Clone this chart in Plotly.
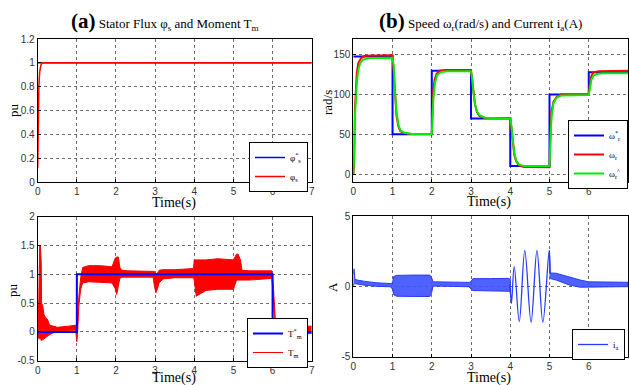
import plotly.graph_objects as go

# ---------------- data ----------------
# (a) top: stator flux (pu)
flux_ref_t = [0.0, 7.0]
flux_ref_v = [1.0, 1.0]
flux_t = [0.0, 0.005, 0.015, 0.03, 0.05, 0.08, 0.11, 7.0]
flux_v = [0.12, 0.40, 0.65, 0.80, 0.92, 0.98, 1.00, 1.00]

# (b) top: speed (rad/s)
spd_ref_t = [0, 1, 1, 2, 2, 3, 3, 4, 4, 5, 5, 6, 6, 7]
spd_ref_v = [148, 148, 50, 50, 130, 130, 70, 70, 10, 10, 100, 100, 128, 128]
spd_t = [0.0, 0.02, 0.04, 0.06, 0.09, 0.13, 0.2, 0.3, 1.0,
         1.03, 1.06, 1.1, 1.15, 1.2, 1.3, 1.5, 2.0,
         2.02, 2.04, 2.07, 2.12, 2.2, 2.35, 3.0,
         3.03, 3.06, 3.1, 3.15, 3.22, 3.35, 4.0,
         4.03, 4.06, 4.1, 4.15, 4.22, 4.35, 5.0,
         5.02, 5.05, 5.1, 5.18, 5.3, 6.0,
         6.03, 6.07, 6.12, 6.25, 7.0]
spd_v = [0, 10, 80, 110, 128, 140, 146, 149, 149.5,
         130, 100, 74, 60, 54, 51.5, 50.5, 50.5,
         85, 105, 118, 126, 130, 131, 131,
         118, 102, 88, 78, 73, 70.5, 70.5,
         58, 40, 25, 16, 11, 9, 8.5,
         45, 78, 91, 97, 100, 100,
         115, 124, 128, 129.5, 130]
est_t = [0.0, 0.02, 0.04, 0.06, 0.09, 0.13, 0.18, 0.25, 0.4, 1.0,
         1.03, 1.06, 1.1, 1.15, 1.2, 1.3, 1.5, 2.0,
         2.02, 2.04, 2.08, 2.14, 2.25, 2.4, 3.0,
         3.03, 3.06, 3.1, 3.15, 3.22, 3.35, 4.0,
         4.03, 4.06, 4.1, 4.15, 4.22, 4.35, 5.0,
         5.02, 5.05, 5.1, 5.18, 5.3, 6.0,
         6.03, 6.07, 6.12, 6.2, 6.35, 7.0]
est_v = [0, 20, 70, 95, 115, 132, 140, 144, 146, 146.5,
         135, 105, 78, 62, 55, 52, 50.5, 50.3,
         70, 95, 115, 125, 128.5, 129.5, 129.5,
         120, 103, 88, 79, 74, 71, 70,
         60, 42, 27, 17, 12, 10, 10,
         35, 72, 89, 96, 99, 99.5,
         108, 119, 124, 126, 127, 127]

# (a) bottom: electromagnetic torque (pu)
tq_ref_t = [0, 1, 1, 6, 6, 7]
tq_ref_v = [0, 0, 1, 1, 0, 0]
tq_t = [0.00, 0.03, 0.05, 0.07, 0.09, 0.10, 0.13, 0.16, 0.20, 0.25, 0.30, 0.50, 0.80, 0.97,
        1.00, 1.02, 1.05, 1.10, 1.15, 1.30, 1.60, 1.90, 1.98, 2.02, 2.06, 2.10, 2.15, 2.30,
        2.60, 2.95, 2.98, 3.02, 3.06, 3.10, 3.20, 3.50, 3.98, 4.00, 4.05, 4.30, 4.60, 5.00,
        5.08, 5.12, 5.18, 5.22, 5.40, 5.80, 5.98, 6.02, 6.05, 6.08, 6.12, 6.20, 6.50, 6.90, 7.00]
tq_hi = [0.05, 0.60, 1.50, 1.50, 1.20, 0.50, 0.45, 0.30, 0.25, 0.22, 0.12, 0.08, 0.10, 0.12,
         0.12, 0.20, 0.60, 0.95, 1.12, 1.15, 1.15, 1.13, 1.28, 1.30, 1.30, 1.12, 1.07, 1.06,
         1.06, 1.06, 1.05, 1.00, 1.02, 1.07, 1.08, 1.08, 1.10, 1.25, 1.25, 1.25, 1.27, 1.25,
         1.35, 1.35, 1.25, 1.07, 1.06, 1.06, 1.06, 0.80, 0.30, 0.10, 0.05, 0.02, 0.03, 0.10, 0.10]
tq_lo = [-0.10, -0.12, -0.12, -0.10, -0.15, -0.12, -0.14, -0.12, -0.10, -0.08, -0.05, 0.02, 0.03, 0.03,
         -0.17, 0.00, 0.45, 0.75, 0.85, 0.87, 0.86, 0.85, 0.75, 0.65, 0.80, 0.93, 0.95, 0.95,
         0.95, 0.95, 0.80, 0.68, 0.75, 0.85, 0.92, 0.94, 0.94, 0.90, 0.62, 0.72, 0.74, 0.74,
         0.90, 0.90, 0.90, 0.90, 0.90, 0.92, 0.93, 0.60, 0.15, 0.00, -0.05, -0.05, -0.03, -0.03, -0.03]

# (b) bottom: phase current i_a (A)
ia1_t = [0.00, 0.02, 0.04, 0.10, 0.30, 0.60, 0.95, 1.00, 1.03, 1.10, 1.50, 1.95, 2.00, 2.03,
         2.10, 2.50, 2.95, 3.00, 3.05, 3.50, 3.95, 4.00]
ia1_hi = [0.90, 1.25, 0.50, 0.45, 0.35, 0.25, 0.20, 0.25, 0.70, 0.78, 0.80, 0.80, 0.60, 0.32,
          0.32, 0.28, 0.28, 0.35, 0.55, 0.55, 0.57, 0.50]
ia1_lo = [0.00, 0.20, 0.15, 0.15, 0.08, 0.00, -0.03, -0.20, -0.60, -0.70, -0.72, -0.72, -0.40, 0.02,
          0.02, 0.00, -0.03, -0.20, -0.30, -0.30, -0.35, -0.40]
ia2_t = [5.00, 5.02, 5.17, 5.50, 5.78, 6.00, 6.50, 7.00]
ia2_hi = [2.55, 0.95, 0.93, 0.65, 0.45, 0.32, 0.29, 0.29]
ia2_lo = [0.50, 0.55, 0.45, 0.10, -0.06, -0.03, -0.02, -0.02]
ia_osc_t = [3.98, 4.00, 4.03, 4.10, 4.23, 4.37, 4.53, 4.68, 4.83, 4.99, 5.01]
ia_osc_v = [0.10, -0.30, -1.20, 1.40, -2.50, 2.55, -2.55, 2.55, -2.55, 2.55, 0.90]

x_ticks = [0, 1, 2, 3, 4, 5, 6, 7]
flux_ticks = [0, 0.2, 0.4, 0.6, 0.8, 1, 1.2]
flux_tick_text = ["0", "0.2", "0.4", "0.6", "0.8", "1", "1.2"]
spd_ticks = [0, 50, 100, 150]
tq_ticks = [-0.5, 0, 0.5, 1, 1.5, 2]
tq_tick_text = ["-0.5", "0", "0.5", "1", "1.5", "2"]
ia_ticks = [-5, 0, 5]
ia_tick_text = ["-5", "0", "5"]

# ---------------- figure ----------------
W, H = 629, 385
BLUE = "#0000ff"
RED = "#ff0000"
GREEN = "#00ee00"
IA_BLUE = "rgb(40,60,255)"

fig = go.Figure()

# (a) top
fig.add_trace(go.Scatter(x=flux_ref_t, y=flux_ref_v, mode="lines", line=dict(color=BLUE, width=1.5),
                         name="φ<sup>*</sup><sub>s</sub>", xaxis="x", yaxis="y", legend="legend",
                         legendrank=1))
fig.add_trace(go.Scatter(x=flux_t, y=flux_v, mode="lines", line=dict(color=RED, width=1.5),
                         name="φ<sub>s</sub>", xaxis="x", yaxis="y", legend="legend", legendrank=2))

# (b) top
fig.add_trace(go.Scatter(x=spd_ref_t, y=spd_ref_v, mode="lines", line=dict(color=BLUE, width=2),
                         name="ω<sup>*</sup><sub>r</sub>", xaxis="x2", yaxis="y2", legend="legend2",
                         legendrank=1))
fig.add_trace(go.Scatter(x=spd_t, y=spd_v, mode="lines", line=dict(color=RED, width=2),
                         name="ω<sub>r</sub>", xaxis="x2", yaxis="y2", legend="legend2", legendrank=2))
fig.add_trace(go.Scatter(x=est_t, y=est_v, mode="lines", line=dict(color=GREEN, width=2),
                         name="ω<sub>r</sub><sup>^</sup>", xaxis="x2", yaxis="y2", legend="legend2",
                         legendrank=3))

# (a) bottom
fig.add_trace(go.Scatter(x=tq_t, y=tq_hi, mode="lines", line=dict(color=RED, width=1),
                         name="T<sub>m</sub>", xaxis="x3", yaxis="y3", legend="legend3", legendrank=2))
fig.add_trace(go.Scatter(x=tq_t, y=tq_lo, mode="lines", line=dict(color=RED, width=1),
                         fill="tonexty", fillcolor=RED, showlegend=False, xaxis="x3", yaxis="y3"))
fig.add_trace(go.Scatter(x=tq_ref_t, y=tq_ref_v, mode="lines", line=dict(color=BLUE, width=2),
                         name="T<sup>*</sup><sub>m</sub>", xaxis="x3", yaxis="y3", legend="legend3",
                         legendrank=1))

# (b) bottom
poly_x = ia1_t + ia1_t[::-1] + [None] + ia2_t + ia2_t[::-1]
poly_y = ia1_hi + ia1_lo[::-1] + [None] + ia2_hi + ia2_lo[::-1]
fig.add_trace(go.Scatter(x=poly_x, y=poly_y, mode="lines", line=dict(color=IA_BLUE, width=1),
                         fill="toself", fillcolor="rgba(60,80,255,0.9)", showlegend=False,
                         xaxis="x4", yaxis="y4"))
fig.add_trace(go.Scatter(x=ia_osc_t, y=ia_osc_v, mode="lines", line=dict(color=IA_BLUE, width=1.3, shape="spline"),
                         name="i<sub>a</sub>", xaxis="x4", yaxis="y4", legend="legend4"))

# ---------------- layout ----------------
def px_x(p):
    return p / W

def px_y(p):
    return 1 - p / H

tickfont = dict(family="Liberation Sans, Arial, sans-serif", size=10, color="#333333")
grid = dict(showgrid=True, gridcolor="rgb(110,110,110)", griddash="dot", gridwidth=1,
            zeroline=False, showline=True, linecolor="black", linewidth=1, mirror=True,
            ticks="inside", ticklen=3, tickcolor="black", tickfont=tickfont, automargin=False)

xL = [px_x(37.7), px_x(311.7)]
xR = [px_x(353.3), px_x(628.0)]
yT = [px_y(182), px_y(39)]
yBL = [px_y(360.7), px_y(216.7)]
yBR = [px_y(356.7), px_y(216.0)]

fig.update_layout(
    width=W, height=H,
    margin=dict(l=0, r=0, t=0, b=0, autoexpand=False),
    paper_bgcolor="white", plot_bgcolor="white",
    font=dict(family="Liberation Serif, Times New Roman, serif", color="black"),
    xaxis=dict(domain=xL, range=[0, 7], tickvals=x_ticks, anchor="y", **grid),
    yaxis=dict(domain=yT, range=[0, 1.2], tickvals=flux_ticks, ticktext=flux_tick_text, anchor="x", **grid),
    xaxis2=dict(domain=xR, range=[0, 7], tickvals=x_ticks, anchor="y2", **grid),
    yaxis2=dict(domain=yT, range=[-10, 170], tickvals=spd_ticks, anchor="x2", **grid),
    xaxis3=dict(domain=xL, range=[0, 7], tickvals=x_ticks, anchor="y3", **grid),
    yaxis3=dict(domain=yBL, range=[-0.5, 2], tickvals=tq_ticks, ticktext=tq_tick_text, anchor="x3", **grid),
    xaxis4=dict(domain=xR, range=[0, 7], tickvals=x_ticks, anchor="y4", **grid),
    yaxis4=dict(domain=yBR, range=[-5, 5], tickvals=ia_ticks, ticktext=ia_tick_text, anchor="x4", **grid),
)

legend_common = dict(bgcolor="white", bordercolor="black", borderwidth=1,
                     font=dict(family="Liberation Serif, serif", size=9, color="black"),
                     xanchor="right", yanchor="top", tracegroupgap=0, itemwidth=30,
                     traceorder="normal")
fig.update_layout(
    legend=dict(x=px_x(308), y=px_y(142), **legend_common),
    legend2=dict(x=px_x(628), y=px_y(120), **legend_common),
    legend3=dict(x=px_x(308), y=px_y(318), **legend_common),
    legend4=dict(x=px_x(625), y=px_y(329), **legend_common),
)

ann = []
title_font = dict(family="Liberation Serif, Times New Roman, serif", size=13, color="black")
ann.append(dict(text="<span style='font-size:21px'><b>(a)</b></span> Stator Flux φ<sub>s</sub> and Moment T<sub>m</sub>",
                x=px_x(165), y=px_y(21), xref="paper", yref="paper", showarrow=False,
                xanchor="center", yanchor="middle", font=title_font))
ann.append(dict(text="<span style='font-size:21px'><b>(b)</b></span> Speed ω<sub>r</sub>(rad/s) and Current i<sub>a</sub>(A)",
                x=px_x(480), y=px_y(21), xref="paper", yref="paper", showarrow=False,
                xanchor="center", yanchor="middle", font=title_font))
lab_font = dict(family="Liberation Serif, Times New Roman, serif", size=14, color="black")
for (xx, yy) in [(174, 203), (489, 202), (174, 378), (489, 378)]:
    ann.append(dict(text="Time(s)", x=px_x(xx), y=px_y(yy), xref="paper", yref="paper",
                    showarrow=False, xanchor="center", yanchor="middle", font=lab_font))
ylab_font = dict(family="Liberation Serif, Times New Roman, serif", size=13, color="black")
for (txt, xx, yy) in [("pu", 13, 110), ("pu", 12, 290), ("rad/s", 328, 103), ("A", 332, 287)]:
    ann.append(dict(text=txt, x=px_x(xx), y=px_y(yy), xref="paper", yref="paper", textangle=-90,
                    showarrow=False, xanchor="center", yanchor="middle", font=ylab_font))
fig.update_layout(annotations=ann)

fig.write_html("out.html", config={"displayModeBar": False},
               post_script="document.body.style.margin='0';document.body.style.overflow='hidden';")
